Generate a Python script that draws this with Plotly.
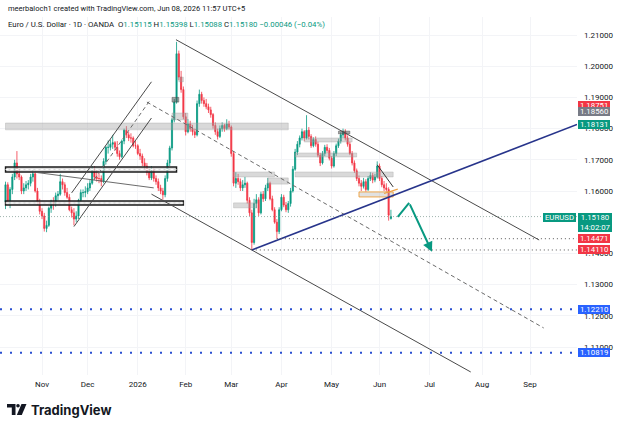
import pandas as pd
import plotly.graph_objects as go

# ---------------- data ----------------
HOLIDAYS = ["2025-12-25", "2026-01-01"]
dates = pd.bdate_range("2025-10-10", "2026-06-08")
dates = dates[~dates.isin(pd.to_datetime(HOLIDAYS))]

opens = [
    1.1565, 1.1620, 1.1570, 1.1605, 1.1645, 1.1690, 1.1655, 1.1645, 1.1600, 1.1610, 1.1620, 1.1625, 1.1645, 1.1655, 1.1600, 1.1565,
    1.1535, 1.1520, 1.1480, 1.1490, 1.1545, 1.1565, 1.1560, 1.1585, 1.1590, 1.1630, 1.1620, 1.1595, 1.1580, 1.1540, 1.1530, 1.1510, 1.1520, 1.1570, 1.1595, 1.1595,
    1.1598, 1.1610, 1.1625, 1.1665, 1.1645, 1.1640, 1.1640, 1.1630, 1.1695, 1.1740, 1.1740, 1.1750, 1.1755, 1.1740, 1.1720, 1.1710, 1.1760, 1.1795, 1.1780, 1.1770, 1.1770, 1.1745,
    1.1745, 1.1720, 1.1712, 1.1690, 1.1680, 1.1660, 1.1642, 1.1665, 1.1640, 1.1630, 1.1610, 1.1600, 1.1588, 1.1640, 1.1690, 1.1738, 1.1828, 1.1885, 1.2040, 1.1965, 1.1925,
    1.1838, 1.1790, 1.1815, 1.1800, 1.1790, 1.1780, 1.1880, 1.1910, 1.1890, 1.1880, 1.1870, 1.1860, 1.1845, 1.1810, 1.1790, 1.1775, 1.1800, 1.1810, 1.1800, 1.1815,
    1.1805, 1.1720, 1.1625, 1.1640, 1.1630, 1.1610, 1.1620, 1.1625, 1.1570, 1.1530, 1.1435, 1.1560, 1.1572, 1.1530, 1.1590, 1.1575, 1.1610, 1.1625, 1.1575, 1.1540, 1.1500, 1.1470,
    1.1540, 1.1580, 1.1555, 1.1540, 1.1560, 1.1600, 1.1670, 1.1725, 1.1750, 1.1770, 1.1790, 1.1770, 1.1795, 1.1775, 1.1745, 1.1765, 1.1750, 1.1715, 1.1690, 1.1720, 1.1740, 1.1730,
    1.1705, 1.1680, 1.1720, 1.1745, 1.1760, 1.1780, 1.1790, 1.1770, 1.1750, 1.1720, 1.1690, 1.1665, 1.1640, 1.1625, 1.1615, 1.1630, 1.1605, 1.1640, 1.1650, 1.1635, 1.1645,
    1.1680, 1.1640, 1.1620, 1.1610, 1.1605, 1.15115,
]
highs = [
    1.1630, 1.1628, 1.1612, 1.1655, 1.1700, 1.1728, 1.1670, 1.1650, 1.1625, 1.1632, 1.1635, 1.1655, 1.1670, 1.1665, 1.1610, 1.1575,
    1.1545, 1.1530, 1.1505, 1.1550, 1.1572, 1.1580, 1.1595, 1.1600, 1.1655, 1.1640, 1.1628, 1.1610, 1.1590, 1.1550, 1.1545, 1.1535, 1.1575, 1.1605, 1.1605, 1.1615,
    1.1625, 1.1635, 1.1680, 1.1680, 1.1670, 1.1660, 1.1650, 1.1705, 1.1745, 1.1762, 1.1765, 1.1780, 1.1760, 1.1760, 1.1730, 1.1765, 1.1800, 1.1808, 1.1790, 1.1785, 1.1775, 1.1760,
    1.1750, 1.1735, 1.1720, 1.1705, 1.1690, 1.1670, 1.1680, 1.1672, 1.1650, 1.1640, 1.1620, 1.1610, 1.1650, 1.1700, 1.1745, 1.1835, 1.1895, 1.2078, 1.2050, 1.1985, 1.1935,
    1.1850, 1.1830, 1.1825, 1.1812, 1.1800, 1.1890, 1.1925, 1.1918, 1.1900, 1.1895, 1.1880, 1.1870, 1.1850, 1.1820, 1.1800, 1.1810, 1.1820, 1.1815, 1.1830, 1.1825,
    1.1810, 1.1728, 1.1660, 1.1655, 1.1640, 1.1635, 1.1645, 1.1630, 1.1580, 1.1540, 1.1575, 1.1590, 1.1580, 1.1598, 1.1600, 1.1620, 1.1642, 1.1630, 1.1585, 1.1548, 1.1510, 1.1548,
    1.1590, 1.1588, 1.1565, 1.1568, 1.1610, 1.1680, 1.1735, 1.1760, 1.1778, 1.1800, 1.1795, 1.1843, 1.1805, 1.1782, 1.1772, 1.1775, 1.1758, 1.1722, 1.1728, 1.1748, 1.1750, 1.1738,
    1.1712, 1.1728, 1.1752, 1.1768, 1.1788, 1.1800, 1.1798, 1.1778, 1.1758, 1.1728, 1.1698, 1.1672, 1.1650, 1.1635, 1.1642, 1.1638, 1.1648, 1.1660, 1.1658, 1.1655, 1.1695,
    1.1688, 1.1648, 1.1632, 1.1625, 1.1612, 1.15398,
]
lows = [
    1.1542, 1.1560, 1.1545, 1.1590, 1.1635, 1.1640, 1.1635, 1.1590, 1.1590, 1.1600, 1.1605, 1.1615, 1.1630, 1.1595, 1.1555, 1.1525,
    1.1510, 1.1470, 1.1468, 1.1485, 1.1530, 1.1540, 1.1550, 1.1570, 1.1585, 1.1605, 1.1585, 1.1575, 1.1535, 1.1515, 1.1490, 1.1500, 1.1510, 1.1565, 1.1580, 1.1580,
    1.1590, 1.1600, 1.1620, 1.1635, 1.1630, 1.1625, 1.1615, 1.1625, 1.1685, 1.1720, 1.1730, 1.1735, 1.1730, 1.1710, 1.1700, 1.1705, 1.1750, 1.1770, 1.1760, 1.1755, 1.1740, 1.1735,
    1.1715, 1.1700, 1.1680, 1.1670, 1.1650, 1.1635, 1.1635, 1.1630, 1.1620, 1.1600, 1.1590, 1.1572, 1.1580, 1.1630, 1.1680, 1.1730, 1.1820, 1.1880, 1.1955, 1.1915, 1.1830,
    1.1778, 1.1785, 1.1790, 1.1778, 1.1770, 1.1775, 1.1870, 1.1880, 1.1870, 1.1862, 1.1850, 1.1835, 1.1800, 1.1780, 1.1765, 1.1770, 1.1790, 1.1790, 1.1795, 1.1798,
    1.1710, 1.1615, 1.1610, 1.1620, 1.1600, 1.1600, 1.1610, 1.1560, 1.1520, 1.1411, 1.1428, 1.1545, 1.1520, 1.1525, 1.1565, 1.1568, 1.1600, 1.1570, 1.1535, 1.1495, 1.1447, 1.1462,
    1.1535, 1.1548, 1.1532, 1.1530, 1.1550, 1.1595, 1.1665, 1.1715, 1.1740, 1.1762, 1.1760, 1.1765, 1.1765, 1.1738, 1.1740, 1.1742, 1.1708, 1.1680, 1.1685, 1.1712, 1.1722, 1.1698,
    1.1672, 1.1675, 1.1712, 1.1738, 1.1752, 1.1770, 1.1762, 1.1742, 1.1715, 1.1682, 1.1658, 1.1632, 1.1615, 1.1600, 1.1608, 1.1598, 1.1600, 1.1632, 1.1625, 1.1628, 1.1640,
    1.1632, 1.1612, 1.1600, 1.1598, 1.1505, 1.15088,
]
closes = [
    1.1620, 1.1570, 1.1605, 1.1645, 1.1690, 1.1655, 1.1645, 1.1600, 1.1610, 1.1620, 1.1625, 1.1645, 1.1655, 1.1600, 1.1565, 1.1535,
    1.1520, 1.1480, 1.1490, 1.1545, 1.1565, 1.1560, 1.1585, 1.1590, 1.1630, 1.1620, 1.1595, 1.1580, 1.1540, 1.1530, 1.1510, 1.1520, 1.1570, 1.1595, 1.1595, 1.1598,
    1.1610, 1.1625, 1.1665, 1.1645, 1.1640, 1.1640, 1.1630, 1.1695, 1.1740, 1.1740, 1.1750, 1.1755, 1.1740, 1.1720, 1.1710, 1.1760, 1.1795, 1.1780, 1.1770, 1.1770, 1.1745, 1.1745,
    1.1720, 1.1712, 1.1690, 1.1680, 1.1660, 1.1642, 1.1665, 1.1640, 1.1630, 1.1610, 1.1600, 1.1588, 1.1640, 1.1690, 1.1738, 1.1828, 1.1885, 1.2040, 1.1965, 1.1925, 1.1838,
    1.1790, 1.1815, 1.1800, 1.1790, 1.1780, 1.1880, 1.1910, 1.1890, 1.1880, 1.1870, 1.1860, 1.1845, 1.1810, 1.1790, 1.1775, 1.1800, 1.1810, 1.1800, 1.1815, 1.1805,
    1.1720, 1.1625, 1.1640, 1.1630, 1.1610, 1.1620, 1.1625, 1.1570, 1.1530, 1.1435, 1.1560, 1.1572, 1.1530, 1.1590, 1.1575, 1.1610, 1.1625, 1.1575, 1.1540, 1.1500, 1.1470, 1.1540,
    1.1580, 1.1555, 1.1540, 1.1560, 1.1600, 1.1670, 1.1725, 1.1750, 1.1770, 1.1790, 1.1770, 1.1795, 1.1775, 1.1745, 1.1765, 1.1750, 1.1715, 1.1690, 1.1720, 1.1740, 1.1730, 1.1705,
    1.1680, 1.1720, 1.1745, 1.1760, 1.1780, 1.1790, 1.1770, 1.1750, 1.1720, 1.1690, 1.1665, 1.1640, 1.1625, 1.1615, 1.1630, 1.1605, 1.1640, 1.1650, 1.1635, 1.1645, 1.1680,
    1.1640, 1.1620, 1.1610, 1.1605, 1.15226, 1.15180,
]

price_ticks = [1.11, 1.12, 1.13, 1.14, 1.16, 1.17, 1.18, 1.19, 1.20, 1.21]
month_ticks = ["2025-11-03", "2025-12-01", "2026-01-02", "2026-02-02", "2026-03-02", "2026-04-01",
               "2026-05-01", "2026-06-01", "2026-07-01", "2026-08-03", "2026-09-01"]
month_labels = ["Nov", "Dec", "2026", "Feb", "Mar", "Apr", "May", "Jun", "Jul", "Aug", "Sep"]

X_START, X_END = "2025-10-07 14:00", "2026-09-29 14:24"
Y_LOW, Y_HIGH = 1.10103, 1.21577

# drawings: (date, price)
upper_channel = [("2026-01-26 18:00", 1.2085), ("2026-09-07", 1.1443)]
lower_channel = [("2026-01-12", 1.1590), ("2026-07-27", 1.1020)]
mid_channel = [("2026-01-08", 1.1885), ("2026-09-09", 1.1161)]
rise_outer = [("2025-11-20", 1.1594), ("2026-01-12", 1.1950)]
rise_inner = [("2025-11-21", 1.1486), ("2026-01-12", 1.1834)]
rise_mid = [("2025-12-04", 1.1638), ("2026-01-09", 1.1887)]
thin_line = [("2025-10-28", 1.1661), ("2026-01-13", 1.1610)]
blue_trend = [("2026-03-13", 1.1411), (X_END, 1.18131)]
tri_line = [("2026-05-29", 1.1684), ("2026-06-09", 1.1613)]
orange_line = [("2026-06-03", 1.1592), ("2026-06-11", 1.1606)]
green_path = [("2026-06-11", 1.1517), ("2026-06-18", 1.1562), ("2026-07-02", 1.1405)]

gray_zones = [  # x0, x1, p0, p1
    ("2025-10-10", "2026-04-06", 1.1796, 1.1818),
    ("2026-03-03", "2026-03-27", 1.1645, 1.1661),
    ("2026-03-24", "2026-04-06", 1.1622, 1.1642),
    ("2026-03-03", "2026-03-17", 1.1546, 1.1562),
    ("2026-04-09", "2026-06-09", 1.1645, 1.1661),
    ("2026-04-09", "2026-05-18", 1.1709, 1.1722),
    ("2026-04-15", "2026-05-14", 1.1757, 1.1770),
    ("2026-01-23", "2026-02-03", 1.1828, 1.1850),
    ("2026-01-28", "2026-01-30", 1.1950, 1.1965),
]
dark_zones = [
    ("2026-01-23", "2026-01-28", 1.1885, 1.1900),
    ("2026-05-06", "2026-05-13", 1.1783, 1.1792),
]
orange_zone = ("2026-05-19", "2026-06-09", 1.1581, 1.1597)
black_zones = [
    ("2025-10-10", "2026-01-27", 1.1661, 1.1677),
    ("2025-10-10", "2026-01-30", 1.1555, 1.1568),
]
rays = [("2026-03-30", 1.14471), ("2026-03-13", 1.14110)]
blue_levels = [1.12210, 1.10819]
last_price = 1.15180

UP, DOWN = "#089981", "#f23645"
TEXT = "#131722"
FONT = "Roboto"

# plot geometry in pixels (for decorations outside the data area)
L, R, T, B = 0, 577, 17, 375


def px(x):
    return (x - L) / (R - L)


def py(y):
    return 1 - (y - T) / (B - T)


fig = go.Figure()
fig.add_trace(go.Candlestick(
    x=dates, open=opens, high=highs, low=lows, close=closes,
    increasing=dict(line=dict(color=UP, width=0.8), fillcolor=UP),
    decreasing=dict(line=dict(color=DOWN, width=0.8), fillcolor=DOWN),
    whiskerwidth=0, hoverinfo="skip",
))

shapes = []


def seg(pts, color, width=1.0, dash="solid"):
    for a, b in zip(pts[:-1], pts[1:]):
        shapes.append(dict(type="line", xref="x", yref="y", x0=a[0], y0=a[1], x1=b[0], y1=b[1],
                           line=dict(color=color, width=width, dash=dash), layer="above"))


def rect(z, fill, line_color=None, width=0):
    shapes.append(dict(type="rect", xref="x", yref="y", x0=z[0], x1=z[1], y0=z[2], y1=z[3],
                       fillcolor=fill, line=dict(color=line_color or "rgba(0,0,0,0)", width=width),
                       layer="above"))


for z in gray_zones:
    rect(z, "rgba(160,160,160,0.40)", "rgba(150,150,150,0.6)", 0.5)
for z in dark_zones:
    rect(z, "rgba(90,90,90,0.55)", "rgba(60,60,60,0.8)", 0.5)
rect(orange_zone, "rgba(170,170,170,0.35)", "rgba(240,160,60,0.9)", 1)
for z in black_zones:
    rect(z, "rgba(205,205,205,0.7)", "#1c1c1c", 1.4)
    shapes.append(dict(type="line", xref="x", yref="y", x0=z[0], x1=z[1], y0=(z[2] + z[3]) / 2,
                       y1=(z[2] + z[3]) / 2, line=dict(color="white", width=1, dash="3px,2px"),
                       layer="above"))

seg(upper_channel, "#4a4a4a", 1)
seg(lower_channel, "#4a4a4a", 1)
seg(mid_channel, "#6a6a6a", 1, "4px,3px")
seg(rise_outer, "#4a4a4a", 1)
seg(rise_inner, "#4a4a4a", 1)
seg(rise_mid, "#6a6a6a", 1, "4px,3px")
seg(thin_line, "#5a5a5a", 0.9)
seg(blue_trend, "#27348b", 1.5)
seg(tri_line, "#333333", 1)
seg(orange_line, "#f0a040", 1.2)
seg(green_path[:2], UP, 2)

# horizontal levels
shapes.append(dict(type="line", xref="paper", yref="y", x0=0, x1=1, y0=last_price, y1=last_price,
                   line=dict(color="rgba(120,150,140,0.7)", width=1, dash="1px,2px"), layer="above"))
for d, p in rays:
    shapes.append(dict(type="line", xref="x", yref="y", x0=d, x1=X_END, y0=p, y1=p,
                       line=dict(color="#555555", width=1, dash="1px,3px"), layer="above"))
for p in blue_levels:
    shapes.append(dict(type="line", xref="paper", yref="y", x0=0, x1=1, y0=p, y1=p,
                       line=dict(color="#2a4fd0", width=2, dash="2px,8px"), layer="above"))

# TradingView logo (decoration)
LY = 404
shapes.append(dict(type="path", xref="paper", yref="paper", fillcolor=TEXT, line=dict(width=0),
                   path=f"M{px(7)},{py(LY)} L{px(15.5)},{py(LY)} L{px(15.5)},{py(LY + 11)} L{px(11.8)},{py(LY + 11)} "
                        f"L{px(11.8)},{py(LY + 3.5)} L{px(7)},{py(LY + 3.5)} Z"))
shapes.append(dict(type="circle", xref="paper", yref="paper", fillcolor=TEXT, line=dict(width=0),
                   x0=px(16.2), x1=px(19.8), y0=py(LY), y1=py(LY + 3.6)))
shapes.append(dict(type="path", xref="paper", yref="paper", fillcolor=TEXT, line=dict(width=0),
                   path=f"M{px(21.5)},{py(LY)} L{px(26.5)},{py(LY)} L{px(21.8)},{py(LY + 11)} L{px(16.8)},{py(LY + 11)} Z"))

annotations = []
# green arrow head segment
annotations.append(dict(x=green_path[2][0], y=green_path[2][1], xref="x", yref="y",
                        ax=green_path[1][0], ay=green_path[1][1], axref="x", ayref="y",
                        showarrow=True, arrowhead=2, arrowsize=1, arrowwidth=2, arrowcolor=UP, text=""))


def price_label(p, text, bg, yanchor="middle", yshift=0):
    annotations.append(dict(xref="paper", x=1, xanchor="left", xshift=1, yref="y", y=p,
                            yanchor=yanchor, yshift=yshift, text=text, showarrow=False,
                            bgcolor=bg, borderpad=0, borderwidth=0, align="center",
                            font=dict(family=FONT, size=7.8, color="white")))


price_label(1.18751, "&nbsp;1.18751&nbsp;", DOWN)
price_label(1.18560, "&nbsp;1.18560&nbsp;", "#787b86")
price_label(1.18131, "&nbsp;1.18131&nbsp;", UP)
price_label(last_price, "&nbsp;1.15180&nbsp;<br>&nbsp;14:02:07&nbsp;", UP, yanchor="top", yshift=4)
annotations.append(dict(xref="paper", x=1, xanchor="right", xshift=-1, yref="y", y=last_price,
                        yanchor="top", yshift=4, text="&nbsp;EURUSD&nbsp;", showarrow=False, bgcolor=UP,
                        borderpad=0, borderwidth=0, font=dict(family=FONT, size=7.8, color="white")))
price_label(1.14471, "&nbsp;1.14471&nbsp;", DOWN)
price_label(1.14110, "&nbsp;1.14110&nbsp;", DOWN)
price_label(1.12210, "&nbsp;1.12210&nbsp;", "#2962ff")
price_label(1.10819, "&nbsp;1.10819&nbsp;", "#2962ff")

# header texts
annotations.append(dict(xref="paper", yref="paper", x=px(6), y=py(8), xanchor="left", yanchor="middle",
                        showarrow=False, font=dict(family=FONT, size=7.5, color=TEXT),
                        text="meerbaloch1 created with TradingView.com, Jun 08, 2026 11:57 UTC+5"))


def g(v):
    return f"<span style='color:{UP}'>{v}</span>"


legend_text = ("Euro / U.S. Dollar · 1D · OANDA  O" + g("1.15115") + " H" + g("1.15398") + " L" + g("1.15088")
               + " C" + g("1.15180") + " " + g("−0.00046 (−0.04%)"))
annotations.append(dict(xref="paper", yref="paper", x=px(6), y=py(25), xanchor="left", yanchor="middle",
                        showarrow=False, font=dict(family=FONT, size=7.8, color=TEXT), text=legend_text))
annotations.append(dict(xref="paper", yref="paper", x=px(29), y=py(LY + 5.5), xanchor="left", yanchor="middle",
                        showarrow=False, font=dict(family="Inter", size=13, color=TEXT),
                        text="<b>TradingView</b>"))

fig.update_layout(
    width=625, height=427,
    margin=dict(l=L, r=625 - R, t=T, b=427 - B),
    paper_bgcolor="white", plot_bgcolor="white",
    showlegend=False,
    font=dict(family=FONT, size=8, color=TEXT),
    shapes=shapes, annotations=annotations,
    xaxis=dict(type="date", range=[X_START, X_END],
               rangebreaks=[dict(bounds=["sat", "mon"]), dict(values=HOLIDAYS)],
               rangeslider=dict(visible=False),
               tickvals=month_ticks, ticktext=month_labels,
               showgrid=True, gridcolor="#f3f4f7", gridwidth=1,
               zeroline=False, showline=False, ticks="", ticklabelstandoff=3,
               tickfont=dict(family=FONT, size=8, color=TEXT), fixedrange=True),
    yaxis=dict(range=[Y_LOW, Y_HIGH], side="right", tickvals=price_ticks,
               ticktext=[f"{v:.5f}" for v in price_ticks],
               showgrid=True, gridcolor="#f3f4f7", gridwidth=1,
               zeroline=False, showline=False, ticks="", ticklabelstandoff=6,
               tickfont=dict(family=FONT, size=8, color=TEXT), fixedrange=True),
)

fig.write_html("out.html")
